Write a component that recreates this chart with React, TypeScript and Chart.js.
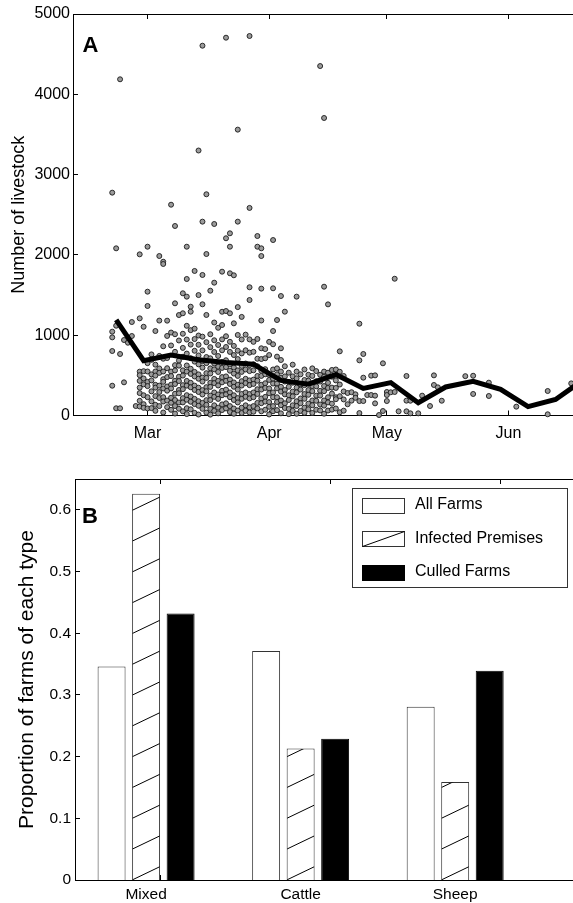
import React, { useEffect, useRef } from 'react';
import { Chart, registerables } from 'chart.js';

Chart.register(...registerables);

const FONT = '"Liberation Sans", Arial, Helvetica, sans-serif';

// ---------- Panel A data ----------
const monthTickDays = [60, 91, 121, 152];
const monthTickLabels = ['Mar', 'Apr', 'May', 'Jun'];
const livestockTicks = [0, 1000, 2000, 3000, 4000, 5000];
const weeklyMeanDays = [52, 59, 66, 73, 80, 87, 94, 101, 108, 115, 122, 129, 136, 143, 150, 157, 164, 171];
const weeklyMeanLivestock = [1190, 682, 752, 695, 660, 640, 437, 390, 510, 338, 410, 159, 355, 425, 326, 110, 200, 440];

const farmsFeb: [number, number][] = [
  [51, 2775], [51, 1044], [51, 973], [51, 803], [51, 371],
  [52, 2082], [52, 1118], [52, 90], [53, 4187], [53, 766], [53, 90],
  [54, 413], [54, 940], [55, 906], [56, 1164], [56, 990], [57, 118],
  [58, 2007], [58, 1210], [58, 546], [58, 502], [58, 431], [58, 347], [58, 279], [58, 183], [58, 112],
  [59, 1105], [59, 552], [59, 461], [59, 388], [59, 252], [59, 141], [59, 95],
];

const farmsMarEarly: [number, number][] = [
  [60, 2102], [60, 1542], [60, 1364], [60, 652], [60, 548], [60, 419], [60, 366], [60, 228], [60, 88],
  [61, 761], [61, 693], [61, 512], [61, 437], [61, 301], [61, 176], [61, 92],
  [62, 1052], [62, 633], [62, 548], [62, 497], [62, 382], [62, 347], [62, 241], [62, 133], [62, 58],
  [63, 1986], [63, 1182], [63, 742], [63, 586], [63, 531], [63, 372], [63, 292], [63, 218], [63, 117],
  [64, 1915], [64, 1887], [64, 862], [64, 707], [64, 548], [64, 452], [64, 419], [64, 337], [64, 228], [64, 174], [64, 37],
  [65, 1181], [65, 991], [65, 716], [65, 589], [65, 478], [65, 361], [65, 309], [65, 186], [65, 104],
  [66, 2625], [66, 1033], [66, 872], [66, 547], [66, 491], [66, 384], [66, 337], [66, 221], [66, 158], [66, 71],
  [67, 2360], [67, 1397], [67, 1012], [67, 793], [67, 627], [67, 561], [67, 433], [67, 392], [67, 271], [67, 193], [67, 118], [67, 24],
  [68, 1251], [68, 934], [68, 684], [68, 621], [68, 483], [68, 429], [68, 318], [68, 277], [68, 162], [68, 84],
  [69, 1522], [69, 1273], [69, 1018], [69, 842], [69, 731], [69, 562], [69, 497], [69, 378], [69, 328], [69, 216], [69, 163], [69, 52],
  [70, 2102], [70, 1700], [70, 1480], [70, 1117], [70, 946], [70, 771], [70, 623], [70, 547], [70, 431], [70, 372], [70, 253], [70, 196], [70, 91], [70, 18],
  [71, 1355], [71, 1293], [71, 1063], [71, 883], [71, 714], [71, 582], [71, 518], [71, 407], [71, 352], [71, 237], [71, 171], [71, 77],
  [72, 1800], [72, 1081], [72, 952], [72, 806], [72, 671], [72, 543], [72, 486], [72, 372], [72, 318], [72, 207], [72, 142], [72, 33],
  [73, 3300], [73, 1500], [73, 996], [73, 881], [73, 748], [73, 637], [73, 512], [73, 458], [73, 346], [73, 293], [73, 178], [73, 121], [73, 12],
];

const farmsMarLate: [number, number][] = [
  [74, 4605], [74, 2414], [74, 1750], [74, 1385], [74, 982], [74, 811], [74, 677], [74, 596], [74, 472], [74, 423], [74, 316], [74, 262], [74, 157], [74, 83],
  [75, 2755], [75, 2011], [75, 1252], [75, 913], [75, 728], [75, 652], [75, 527], [75, 468], [75, 353], [75, 302], [75, 191], [75, 133], [75, 36],
  [76, 1554], [76, 1012], [76, 851], [76, 712], [76, 587], [76, 523], [76, 407], [76, 356], [76, 248], [76, 192], [76, 83], [76, 11],
  [77, 2385], [77, 1654], [77, 1158], [77, 937], [77, 791], [77, 648], [77, 574], [77, 456], [77, 403], [77, 287], [77, 232], [77, 127], [77, 58],
  [78, 1092], [78, 878], [78, 741], [78, 608], [78, 542], [78, 431], [78, 374], [78, 262], [78, 207], [78, 98], [78, 27],
  [79, 1791], [79, 1292], [79, 1127], [79, 948], [79, 812], [79, 667], [79, 593], [79, 478], [79, 413], [79, 307], [79, 252], [79, 138], [79, 68],
  [80, 4705], [80, 2207], [80, 1301], [80, 987], [80, 853], [80, 688], [80, 603], [80, 487], [80, 432], [80, 322], [80, 263], [80, 152], [80, 88],
  [81, 2269], [81, 2102], [81, 1771], [81, 1273], [81, 918], [81, 792], [81, 637], [81, 558], [81, 447], [81, 393], [81, 287], [81, 228], [81, 117], [81, 43],
  [82, 1746], [82, 1148], [82, 867], [82, 753], [82, 598], [82, 522], [82, 412], [82, 358], [82, 252], [82, 193], [82, 87], [82, 22],
  [83, 3560], [83, 2414], [83, 1350], [83, 1003], [83, 807], [83, 703], [83, 562], [83, 493], [83, 382], [83, 323], [83, 217], [83, 163], [83, 62],
  [84, 1228], [84, 947], [84, 773], [84, 617], [84, 543], [84, 427], [84, 373], [84, 268], [84, 208], [84, 97], [84, 31],
  [85, 1007], [85, 812], [85, 647], [85, 573], [85, 457], [85, 403], [85, 287], [85, 233], [85, 127], [85, 58],
  [86, 4726], [86, 2585], [86, 1597], [86, 1438], [86, 948], [86, 783], [86, 627], [86, 553], [86, 437], [86, 378], [86, 267], [86, 213], [86, 102], [86, 37],
  [87, 917], [87, 793], [87, 637], [87, 563], [87, 447], [87, 393], [87, 287], [87, 228], [87, 117], [87, 47],
  [88, 2235], [88, 2102], [88, 953], [88, 707], [88, 613], [88, 492], [88, 433], [88, 327], [88, 268], [88, 157], [88, 88],
  [89, 2082], [89, 1986], [89, 1580], [89, 1183], [89, 837], [89, 703], [89, 557], [89, 493], [89, 382], [89, 323], [89, 212], [89, 153], [89, 52],
  [90, 827], [90, 713], [90, 577], [90, 513], [90, 402], [90, 343], [90, 232], [90, 173], [90, 72],
];

const farmsApr: [number, number][] = [
  [91, 917], [91, 753], [91, 507], [91, 443], [91, 337], [91, 278], [91, 167], [91, 108], [91, 13],
  [92, 2185], [92, 1584], [92, 1052], [92, 887], [92, 573], [92, 457], [92, 398], [92, 287], [92, 228], [92, 117], [92, 53],
  [93, 1189], [93, 733], [93, 587], [93, 513], [93, 397], [93, 338], [93, 227], [93, 168], [93, 67],
  [94, 1488], [94, 837], [94, 691], [94, 547], [94, 468], [94, 357], [94, 298], [94, 187], [94, 128], [94, 27],
  [95, 1293], [95, 613], [95, 487], [95, 423], [95, 317], [95, 263], [95, 152], [95, 93],
  [96, 533], [96, 417], [96, 358], [96, 252], [96, 193], [96, 82], [96, 17],
  [97, 633], [97, 487], [97, 408], [97, 297], [97, 238], [97, 127], [97, 58],
  [98, 1480], [98, 547], [98, 463], [98, 347], [98, 288], [98, 177], [98, 118], [98, 22],
  [99, 513], [99, 387], [99, 323], [99, 212], [99, 153], [99, 57],
  [100, 573], [100, 442], [100, 378], [100, 267], [100, 208], [100, 97], [100, 33],
  [101, 507], [101, 433], [101, 317], [101, 258], [101, 147], [101, 78],
  [102, 587], [102, 493], [102, 367], [102, 303], [102, 187], [102, 128], [102, 32],
  [103, 553], [103, 427], [103, 363], [103, 247], [103, 183], [103, 72],
  [104, 4352], [104, 507], [104, 423], [104, 307], [104, 248], [104, 137], [104, 63],
  [105, 3705], [105, 1604], [105, 547], [105, 483], [105, 367], [105, 303], [105, 187], [105, 123], [105, 22],
  [106, 1384], [106, 533], [106, 407], [106, 343], [106, 227], [106, 163], [106, 62],
  [107, 567], [107, 483], [107, 347], [107, 273], [107, 147], [107, 73],
  [108, 573], [108, 437], [108, 343], [108, 227], [108, 203], [108, 87],
  [109, 799], [109, 545], [109, 386], [109, 240], [109, 40],
  [110, 492], [110, 300], [110, 200], [110, 60], [111, 280], [111, 140], [112, 290], [112, 185],
  [113, 264], [113, 220], [114, 1143], [114, 687], [114, 180], [114, 30],
  [115, 766], [115, 471], [115, 180], [116, 255], [117, 496], [117, 255],
  [118, 500], [118, 247], [118, 151], [119, 6], [120, 650], [120, 56],
];

const farmsMayJun: [number, number][] = [
  [121, 293], [121, 255], [121, 180], [122, 289], [123, 293], [123, 1703], [124, 52],
  [126, 52], [126, 185], [126, 492], [127, 184], [127, 27], [129, 27], [130, 247], [132, 118],
  [133, 500], [133, 380], [134, 351], [135, 184], [141, 490], [143, 495], [143, 268],
  [147, 409], [147, 243], [154, 110], [162, 305], [162, 15], [168, 400],
];

// ---------- Panel B data ----------
const farmTypes = ['Mixed', 'Cattle', 'Sheep'];
const farmTypePositions = [1, 2, 3];
const allFarms = [0.346, 0.371, 0.281];
const infectedPremises = [0.626, 0.213, 0.159];
const culledFarms = [0.432, 0.229, 0.339];
const proportionTicks = [0, 0.1, 0.2, 0.3, 0.4, 0.5, 0.6];

// ---------- plugins ----------
const framePlugin = {
  id: 'frame',
  beforeDatasetsDraw(chart: any, _a: any, opts: any) {
    const { ctx, chartArea } = chart;
    const { left, right, top, bottom } = chartArea;
    const xs = chart.scales[opts.xScale];
    const ys = chart.scales.y;
    const len = opts.len || 5;
    ctx.save();
    ctx.strokeStyle = opts.color || '#000';
    ctx.lineWidth = 1;
    ctx.beginPath();
    const yTop = Math.round(top - 0.5) + 0.5;
    ctx.moveTo(left, yTop);
    ctx.lineTo(right, yTop);
    xs.ticks.forEach((t: any) => {
      const px = Math.round(xs.getPixelForValue(t.value) - 0.5) + 0.5;
      ctx.moveTo(px, bottom);
      ctx.lineTo(px, bottom - len);
      ctx.moveTo(px, top);
      ctx.lineTo(px, top + len);
    });
    ys.ticks.forEach((t: any) => {
      const py = Math.round(ys.getPixelForValue(t.value) - 0.5) + 0.5;
      ctx.moveTo(left, py);
      ctx.lineTo(left + len, py);
    });
    ctx.stroke();
    ctx.restore();
  },
};

const letterPlugin = {
  id: 'panelLetter',
  afterDraw(chart: any, _a: any, opts: any) {
    const { ctx } = chart;
    const px = chart.scales.x.getPixelForValue(opts.x);
    const py = chart.scales.y.getPixelForValue(opts.y);
    ctx.save();
    ctx.font = `bold 22px ${FONT}`;
    ctx.fillStyle = '#000';
    ctx.textAlign = 'left';
    ctx.textBaseline = 'alphabetic';
    ctx.fillText(opts.text, px, py);
    ctx.restore();
  },
};

const hatchPlugin = {
  id: 'hatch',
  afterDatasetsDraw(chart: any, _a: any, opts: any) {
    const meta = chart.getDatasetMeta(opts.datasetIndex);
    const ctx = chart.ctx;
    meta.data.forEach((bar: any) => {
      const { x, y, base, width } = bar.getProps(['x', 'y', 'base', 'width'], true);
      const l = x - width / 2;
      const r = x + width / 2;
      const t = Math.min(y, base);
      const b = Math.max(y, base);
      ctx.save();
      ctx.beginPath();
      ctx.rect(l + 0.5, t + 0.5, width - 1, b - t - 0.5);
      ctx.clip();
      ctx.strokeStyle = '#000';
      ctx.lineWidth = 1;
      const rise = width * opts.slope;
      for (let yy = b; yy > t - opts.spacing; yy -= opts.spacing) {
        ctx.beginPath();
        ctx.moveTo(l, yy);
        ctx.lineTo(r, yy - rise);
        ctx.stroke();
      }
      ctx.restore();
    });
  },
};

const boxLegendPlugin = {
  id: 'boxLegend',
  afterDraw(chart: any, _a: any, opts: any) {
    const { ctx, chartArea } = chart;
    const bx = chartArea.left + opts.offsetX;
    const by = chartArea.top + opts.offsetY;
    ctx.save();
    ctx.fillStyle = '#fff';
    ctx.fillRect(bx, by, opts.width, opts.height);
    ctx.strokeStyle = '#333';
    ctx.lineWidth = 1;
    ctx.strokeRect(Math.round(bx) + 0.5, Math.round(by) + 0.5, opts.width, opts.height);
    chart.data.datasets.forEach((ds: any, i: number) => {
      const cy = by + opts.firstRow + i * opts.rowGap;
      const sx = Math.round(bx + 10) + 0.5;
      const sy = Math.round(cy - 7.5) + 0.5;
      const sw = 42;
      const sh = 15;
      ctx.fillStyle = ds.backgroundColor;
      ctx.fillRect(sx, sy, sw, sh);
      ctx.strokeStyle = ds.borderColor;
      ctx.strokeRect(sx, sy, sw, sh);
      if (i === opts.hatchIndex) {
        ctx.strokeStyle = '#000';
        ctx.beginPath();
        ctx.moveTo(sx, sy + sh);
        ctx.lineTo(sx + sw, sy);
        ctx.stroke();
      }
      ctx.fillStyle = '#000';
      ctx.font = `16px ${FONT}`;
      ctx.textAlign = 'left';
      ctx.textBaseline = 'middle';
      ctx.fillText(ds.label, bx + 63, cy);
    });
    ctx.restore();
  },
};

function toPoints(list: [number, number][]) {
  return list.map(([d, v]) => ({ x: d, y: v }));
}

export default function App() {
  const refA = useRef<HTMLCanvasElement | null>(null);
  const refB = useRef<HTMLCanvasElement | null>(null);

  useEffect(() => {
    const allPoints = [
      ...toPoints(farmsFeb),
      ...toPoints(farmsMarEarly),
      ...toPoints(farmsMarLate),
      ...toPoints(farmsApr),
      ...toPoints(farmsMayJun),
    ];
    const chartA = new Chart(refA.current as HTMLCanvasElement, {
      type: 'scatter',
      data: {
        datasets: [
          {
            label: 'Weekly mean',
            data: weeklyMeanDays.map((d, i) => ({ x: d, y: weeklyMeanLivestock[i] })),
            showLine: true,
            borderColor: '#000',
            borderWidth: 5,
            pointRadius: 0,
            fill: false,
            order: 0,
          } as any,
          {
            label: 'Infected farms',
            data: allPoints,
            showLine: false,
            pointRadius: 2.5,
            pointBackgroundColor: '#9b9b9b',
            pointBorderColor: '#1a1a1a',
            pointBorderWidth: 0.9,
            clip: false,
            order: 1,
          } as any,
        ],
      },
      options: {
        animation: false,
        responsive: false,
        maintainAspectRatio: false,
        layout: { padding: { left: 0, top: 14, right: 17, bottom: 0 } },
        plugins: {
          legend: { display: false },
          tooltip: { enabled: false },
          frame: { xScale: 'x', len: 5, color: '#000' },
          panelLetter: { text: 'A', x: 43.4, y: 4525 },
        } as any,
        scales: {
          x: {
            type: 'linear',
            min: 41,
            max: 171,
            afterBuildTicks: (s: any) => {
              s.ticks = monthTickDays.map((v) => ({ value: v }));
            },
            afterFit: (s: any) => {
              s.height = 34.5;
            },
            ticks: {
              callback: (_v: any, i: number) => monthTickLabels[i],
              font: { family: FONT, size: 16 },
              color: '#000',
              padding: 8.5,
              maxRotation: 0,
              autoSkip: false,
            },
            grid: { display: false, drawTicks: false },
            border: { display: true, color: '#000', width: 1 },
          },
          y: {
            type: 'linear',
            min: 0,
            max: 5000,
            afterBuildTicks: (s: any) => {
              s.ticks = livestockTicks.map((v) => ({ value: v }));
            },
            afterFit: (s: any) => {
              s.width = 73;
            },
            ticks: {
              callback: (v: any) => String(v),
              font: { family: FONT, size: 16 },
              color: '#000',
              padding: 3,
              autoSkip: false,
            },
            title: {
              display: true,
              text: 'Number of livestock',
              font: { family: FONT, size: 18 },
              color: '#000',
              padding: { top: 8, bottom: 0 },
            },
            grid: { display: false, drawTicks: false },
            border: { display: true, color: '#000', width: 1 },
          },
        },
      } as any,
      plugins: [framePlugin, letterPlugin],
    });

    const makeBars = (vals: number[]) => farmTypePositions.map((x, i) => ({ x, y: vals[i] }));
    const chartB = new Chart(refB.current as HTMLCanvasElement, {
      type: 'bar',
      data: {
        datasets: [
          { label: 'All Farms', data: makeBars(allFarms), backgroundColor: '#ffffff', borderColor: '#333', borderWidth: 1 },
          { label: 'Infected Premises', data: makeBars(infectedPremises), backgroundColor: '#ffffff', borderColor: '#333', borderWidth: 1 },
          { label: 'Culled Farms', data: makeBars(culledFarms), backgroundColor: '#000000', borderColor: '#000000', borderWidth: 1 },
        ] as any,
      },
      options: {
        animation: false,
        responsive: false,
        maintainAspectRatio: false,
        categoryPercentage: 0.67,
        barPercentage: 0.81,
        layout: { padding: { left: 0, top: 29, right: 15, bottom: 0 } },
        plugins: {
          legend: { display: false },
          tooltip: { enabled: false },
          frame: { xScale: 'xTop', len: 5, color: '#000' },
          panelLetter: { text: 'B', x: 0.585, y: 0.579 },
          hatch: { datasetIndex: 1, spacing: 30.8, slope: 0.48 },
          boxLegend: { offsetX: 277, offsetY: 9, width: 215, height: 99, firstRow: 17, rowGap: 33.5, hatchIndex: 1 },
        } as any,
        scales: {
          x: {
            type: 'linear',
            min: 0.54,
            max: 3.84,
            offset: false,
            afterBuildTicks: (s: any) => {
              s.ticks = farmTypePositions.map((v) => ({ value: v }));
            },
            afterFit: (s: any) => {
              s.height = 23;
            },
            ticks: {
              callback: (_v: any, i: number) => farmTypes[i],
              font: { family: FONT, size: 15.5 },
              color: '#000',
              padding: 5.4,
              maxRotation: 0,
              autoSkip: false,
            },
            grid: { display: false, drawTicks: false },
            border: { display: true, color: '#000', width: 1 },
          },
          xTop: {
            type: 'linear',
            position: 'top',
            display: true,
            min: 0.5,
            max: 3.5,
            offset: false,
            afterBuildTicks: (s: any) => {
              s.ticks = farmTypePositions.map((v) => ({ value: v }));
            },
            afterFit: (s: any) => {
              s.height = 0;
            },
            ticks: { display: false },
            grid: { display: false, drawTicks: false },
            border: { display: false },
          },
          y: {
            type: 'linear',
            min: 0,
            max: 0.65,
            afterBuildTicks: (s: any) => {
              s.ticks = proportionTicks.map((v) => ({ value: v }));
            },
            afterFit: (s: any) => {
              s.width = 75;
            },
            ticks: {
              callback: (v: any) => (v === 0 ? '0' : Number(v).toFixed(1)),
              font: { family: FONT, size: 15.5 },
              color: '#000',
              padding: 4,
              autoSkip: false,
            },
            title: {
              display: true,
              text: 'Proportion of farms of each type',
              font: { family: FONT, size: 21 },
              color: '#000',
              padding: { top: 15, bottom: 0 },
            },
            grid: { display: false, drawTicks: false },
            border: { display: true, color: '#000', width: 1 },
          },
        },
      } as any,
      plugins: [framePlugin, letterPlugin, hatchPlugin, boxLegendPlugin],
    });

    return () => {
      chartA.destroy();
      chartB.destroy();
    };
  }, []);

  return (
    <div style={{ position: 'absolute', left: 0, top: 0, width: 573, height: 903, overflow: 'hidden', background: '#fff' }}>
      <canvas ref={refA} width={600} height={450} style={{ position: 'absolute', left: 0, top: 0, display: 'block' }} />
      <canvas ref={refB} width={600} height={453} style={{ position: 'absolute', left: 0, top: 450, display: 'block' }} />
    </div>
  );
}
